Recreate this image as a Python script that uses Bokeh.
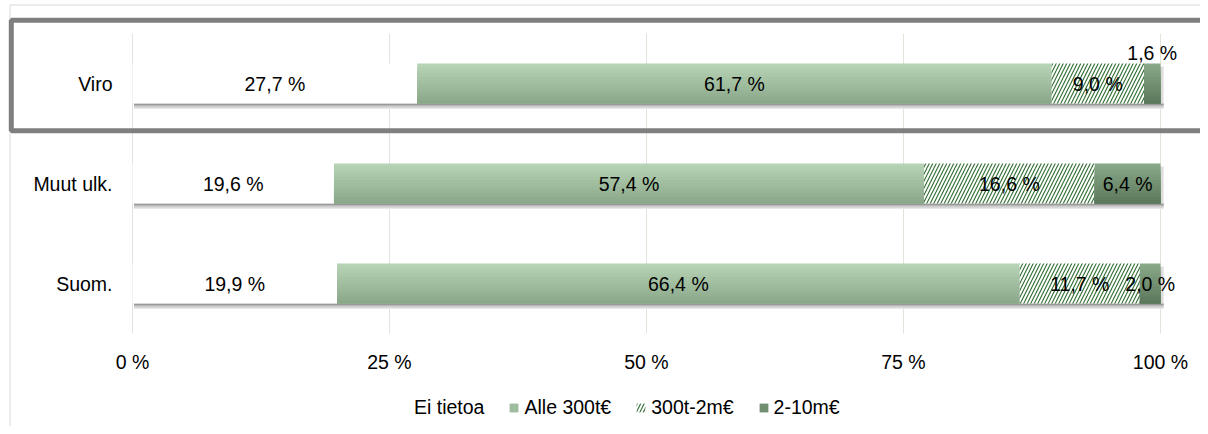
from bokeh.plotting import figure
from bokeh.models import (ColumnDataSource, FixedTicker, Legend, LegendItem,
                          BoxAnnotation, Range1d)
from bokeh.embed import file_html
from bokeh.resources import INLINE
from bokeh.core.properties import value

# ---------------- data ----------------
categories = ["Suom.", "Muut ulk.", "Viro"]
series_names = ["Ei tietoa", "Alle 300t€", "300t-2m€", "2-10m€"]
ei_tietoa = [19.9, 19.6, 27.7]
alle_300t = [66.4, 57.4, 61.7]
v300t_2m = [11.7, 16.6, 9.0]
v2_10m = [2.0, 6.4, 1.6]
x_ticks = [0, 25, 50, 75, 100]
x_tick_labels = ["0 %", "25 %", "50 %", "75 %", "100 %"]

# ---------------- style / layout ----------------
FONT = "Liberation Sans"
FS = "19.5px"
BAR_H = 0.4
N_STRIPS = 12
W, H = 1200, 426
PX_LEFT, PX_RIGHT = 132, 1160      # pixel position of 0 % and 100 %
PX_TOP_CAT = 33                   # pixel of top of category band
PX_PER_CAT = 100

n_cat = len(categories)
y_pos = [i + 0.5 for i in range(n_cat)]
px_per_pct = (PX_RIGHT - PX_LEFT) / 100.0
x_start = -PX_LEFT / px_per_pct
x_end = (W - PX_LEFT) / px_per_pct
y_end = n_cat + PX_TOP_CAT / PX_PER_CAT
y_start = n_cat - (H - PX_TOP_CAT) / PX_PER_CAT

p = figure(width=W, height=H, output_backend="svg", toolbar_location=None,
           x_range=Range1d(x_start, x_end), y_range=Range1d(y_start, y_end),
           min_border_left=0, min_border_right=0,
           min_border_top=0, min_border_bottom=0)
p.background_fill_color = "white"
p.border_fill_color = "white"
p.outline_line_color = None
p.xgrid.visible = False
p.ygrid.visible = False

# axes placed at fixed data locations
p.xaxis.fixed_location = 0
p.yaxis.fixed_location = 0
p.xaxis.ticker = FixedTicker(ticks=x_ticks)
p.xaxis.major_label_overrides = {t: l for t, l in zip(x_ticks, x_tick_labels)}
p.yaxis.ticker = FixedTicker(ticks=y_pos)
p.yaxis.major_label_overrides = {y: c for y, c in zip(y_pos, categories)}
for ax in (p.xaxis, p.yaxis):
    ax.axis_line_color = None
    ax.major_tick_line_color = None
    ax.minor_tick_line_color = None
    ax.major_label_text_font = FONT
    ax.major_label_text_font_size = FS
    ax.major_label_text_color = "#000000"
p.xaxis.major_label_standoff = 11
p.yaxis.major_label_standoff = 14

# vertical gridlines at the tick values, spanning the category band
p.segment(x0=x_ticks, x1=x_ticks, y0=[0] * len(x_ticks), y1=[n_cat] * len(x_ticks),
          line_color="#e3e3dc", line_width=1)

# cumulative positions
series = [ei_tietoa, alle_300t, v300t_2m, v2_10m]
lefts, rights = [], []
for i in range(len(series)):
    l = [sum(s[j] for s in series[:i]) for j in range(n_cat)]
    r = [l[j] + series[i][j] for j in range(n_cat)]
    lefts.append(l)
    rights.append(r)

# soft shadows under bars
shadow_cols = ["#9a9a9a", "#b8b8b8", "#d3d3d3", "#e8e8e8"]
sh = dict(left=[], right=[], top=[], bottom=[], color=[])
for j, yc in enumerate(y_pos):
    b = yc - BAR_H / 2
    for k in range(len(shadow_cols) - 1, -1, -1):
        sh["left"].append(0.15)
        sh["right"].append(rights[-1][j] + 0.3)
        sh["top"].append(b)
        sh["bottom"].append(b - (k + 1) * 0.014)
        sh["color"].append(shadow_cols[k])
    sh["left"].append(rights[-1][j])
    sh["right"].append(rights[-1][j] + 0.3)
    sh["top"].append(yc + BAR_H / 2 - 0.03)
    sh["bottom"].append(b)
    sh["color"].append("#dddddd")
p.quad(left="left", right="right", top="top", bottom="bottom", fill_color="color",
       line_color=None, source=ColumnDataSource(sh))


def hex2rgb(h):
    h = h.lstrip("#")
    return tuple(int(h[i:i + 2], 16) for i in (0, 2, 4))


def mix(c1, c2, t):
    a, b = hex2rgb(c1), hex2rgb(c2)
    return "#%02x%02x%02x" % tuple(round(a[i] + (b[i] - a[i]) * t) for i in range(3))


def gradient_source(l, r, c_top, c_bot):
    # each strip runs from its top down to the bar bottom; later strips cover earlier ones
    d = dict(left=[], right=[], top=[], bottom=[], color=[])
    for j in range(n_cat):
        yc = y_pos[j]
        for k in range(N_STRIPS):
            t = k / (N_STRIPS - 1)
            d["left"].append(l[j])
            d["right"].append(r[j])
            d["top"].append(yc + BAR_H / 2 - k * BAR_H / N_STRIPS)
            d["bottom"].append(yc - BAR_H / 2)
            d["color"].append(mix(c_top, c_bot, t))
    return ColumnDataSource(d)


tops = [y + BAR_H / 2 for y in y_pos]
bottoms = [y - BAR_H / 2 for y in y_pos]

r_ei = p.quad(left=lefts[0], right=rights[0], top=tops, bottom=bottoms,
              fill_color="white", line_color=None)
r_alle = p.quad(left="left", right="right", top="top", bottom="bottom",
                fill_color="color", line_color=None,
                source=gradient_source(lefts[1], rights[1], "#b6d3b5", "#8ba88a"))
r_hatch = p.quad(left=lefts[2], right=rights[2], top=tops, bottom=bottoms,
                 fill_color="white", line_color=None,
                 hatch_pattern="/", hatch_color="#2e6b2e", hatch_scale=7, hatch_weight=1.1)
r_dark = p.quad(left="left", right="right", top="top", bottom="bottom",
                fill_color="color", line_color=None,
                source=gradient_source(lefts[3], rights[3], "#88a888", "#5d795d"))

# data labels
lab = dict(x=[], y=[], text=[])
for i, s in enumerate(series):
    for j, v in enumerate(s):
        lab["x"].append((lefts[i][j] + rights[i][j]) / 2)
        lab["y"].append(y_pos[j] + (0.31 if v < 1.8 else 0.0))
        lab["text"].append(("%.1f" % v).replace(".", ",") + " %")
p.text(x="x", y="y", text="text", source=ColumnDataSource(lab),
       text_font=value(FONT), text_font_size=FS, text_color="#000000",
       text_align="center", text_baseline="middle")

# legend
legend = Legend(items=[
    LegendItem(label=series_names[0], renderers=[r_ei]),
    LegendItem(label=series_names[1], renderers=[r_alle], index=6),
    LegendItem(label=series_names[2], renderers=[r_hatch]),
    LegendItem(label=series_names[3], renderers=[r_dark], index=6),
], orientation="horizontal", location=(398, 7))
legend.glyph_width = 11
legend.glyph_height = 11
legend.label_height = 22
legend.label_standoff = 5
legend.spacing = 24
legend.padding = 0
legend.margin = 0
legend.border_line_alpha = 0
legend.background_fill_alpha = 0
legend.label_text_font = FONT
legend.label_text_font_size = FS
legend.label_text_color = "#000000"
p.add_layout(legend)

# chart outer border and highlight box (canvas coordinates)
outer = BoxAnnotation(left=9.5, right=1400, top=4.5, bottom=1000,
                      left_units="canvas", right_units="canvas",
                      top_units="canvas", bottom_units="canvas",
                      fill_alpha=0, line_color="#d9d9d9", line_alpha=1, line_width=1)
hl = BoxAnnotation(left=10.8, right=1400, top=19.8, bottom=130.2,
                   left_units="canvas", right_units="canvas",
                   top_units="canvas", bottom_units="canvas",
                   fill_alpha=0, line_color="#7f7f7f", line_alpha=1, line_width=5)
p.add_layout(outer)
p.add_layout(hl)

open("out.html", "w").write(file_html(p, INLINE))
